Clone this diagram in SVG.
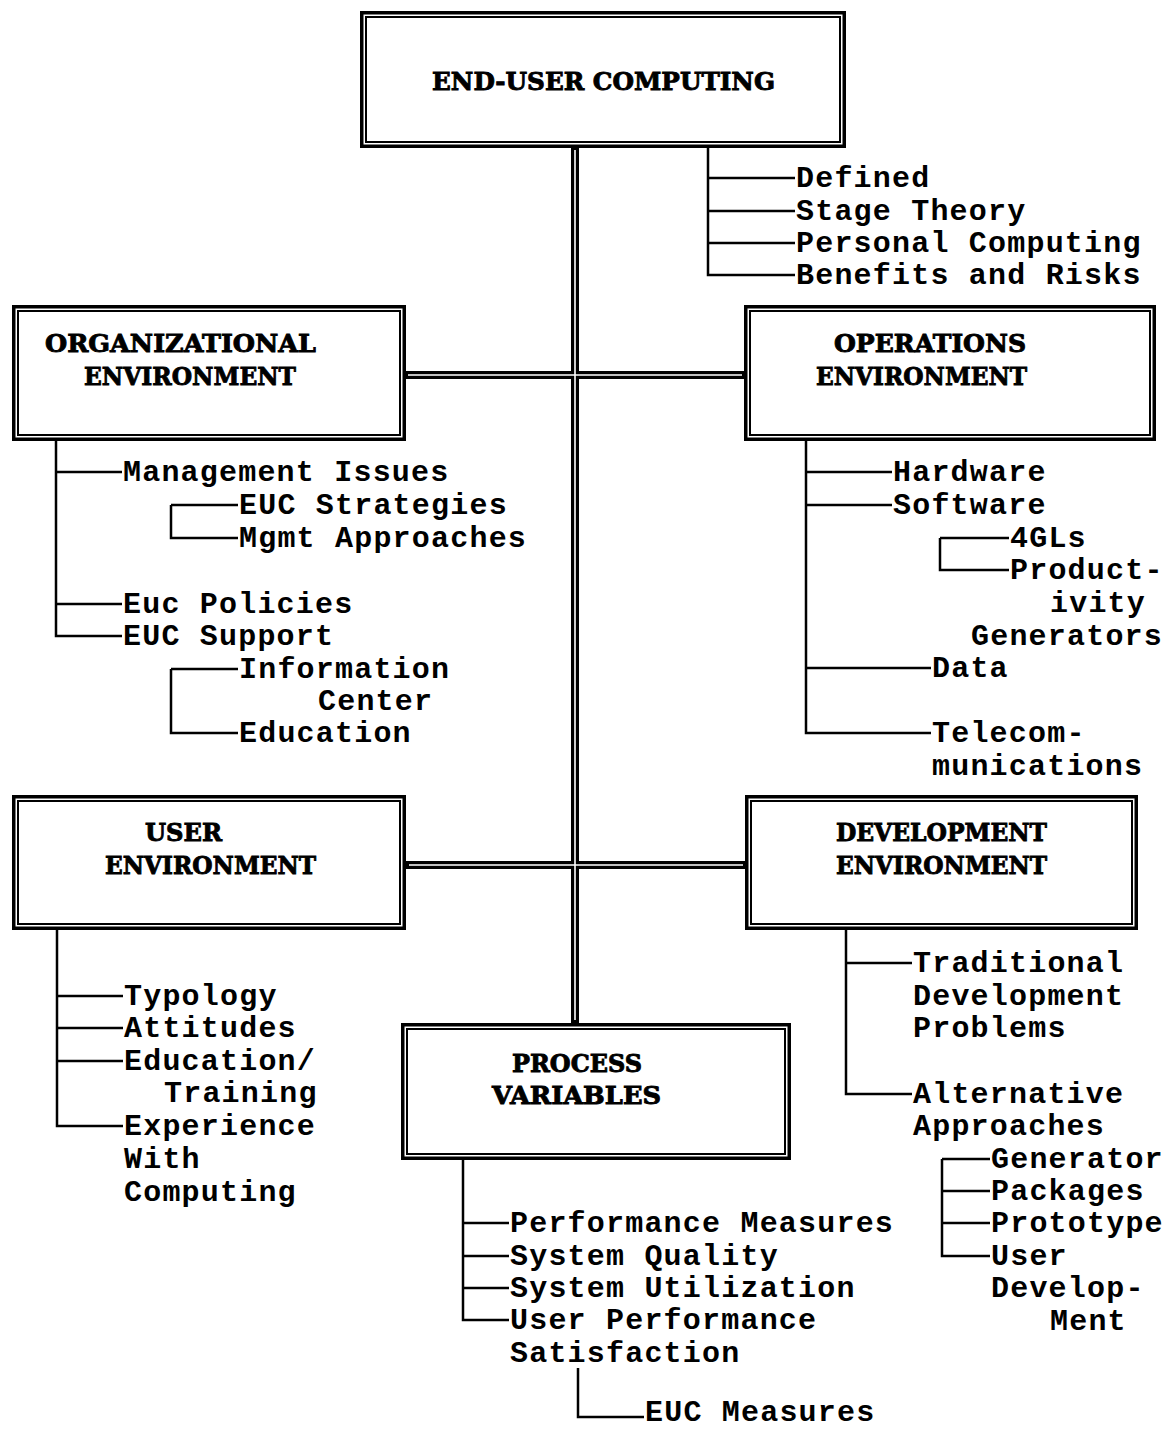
<svg xmlns="http://www.w3.org/2000/svg" width="1172" height="1429" viewBox="0 0 1172 1429">
  <style>
    .bg { fill: #ffffff; }
    .box-out { fill: #ffffff; stroke: #000000; stroke-width: 3.5; }
    .box-in { fill: none; stroke: #000000; stroke-width: 2; }
    .trunk { fill: none; stroke: #000000; stroke-width: 8; }
    .trunk-gap { fill: none; stroke: #ffffff; stroke-width: 1.6; }
    .link { fill: none; stroke: #000000; stroke-width: 2.5; }
    .head { font-family: "DejaVu Serif", "Liberation Serif", serif; font-weight: bold; font-size: 25px; fill: #000000; stroke: #000000; stroke-width: 0.9; }
    .item { font-family: "Liberation Mono", "Courier New", monospace; font-weight: bold; font-size: 30px; letter-spacing: 1.2px; fill: #000000; }
  </style>
  <rect class="bg" x="0" y="0" width="1172" height="1429"/>

  <!-- double-line trunk and the two cross bars -->
  <g id="connectors">
    <path class="trunk" d="M575,147 V1023 M405,375 H745 M406,865 H746"/>
    <path class="trunk-gap" d="M575,150 V1020 M408,375 H742 M409,865 H743"/>

    <!-- End-user computing topics -->
    <path class="link" d="M708,147 V275 H795 M708,178 H795 M708,211 H795 M708,243 H795"/>
    <!-- Organizational environment topics -->
    <path class="link" d="M56,440 V636 H122 M56,472 H122 M56,604 H122"/>
    <path class="link" d="M171,505 V538 H238 M171,505 H238"/>
    <path class="link" d="M171,669 V733 H238 M171,669 H238"/>
    <!-- Operations environment topics -->
    <path class="link" d="M806,440 V733 H931 M806,472 H892 M806,505 H892 M806,668 H931"/>
    <path class="link" d="M940,538 V570 H1009 M940,538 H1009"/>
    <!-- User environment topics -->
    <path class="link" d="M57,930 V1126 H123 M57,996 H123 M57,1028 H123 M57,1061 H123"/>
    <!-- Development environment topics -->
    <path class="link" d="M846,930 V1094 H912 M846,963 H912"/>
    <path class="link" d="M942,1159 V1256 H990 M942,1159 H990 M942,1191 H990 M942,1223 H990"/>
    <!-- Process variables -->
    <path class="link" d="M463,1160 V1320 H509 M463,1223 H509 M463,1256 H509 M463,1288 H509"/>
    <path class="link" d="M578,1368 V1417 H644"/>
  </g>

  <g id="end-user-computing">
    <rect class="box-out" x="361.75" y="12.75" width="482.5" height="133.5"/>
    <rect class="box-in" x="366" y="17" width="474" height="125"/>
    <text class="head" x="432" y="90" textLength="343" lengthAdjust="spacingAndGlyphs">END-USER COMPUTING</text>
  </g>

  <g id="organizational-environment">
    <rect class="box-out" x="13.75" y="306.75" width="390.5" height="132.5"/>
    <rect class="box-in" x="18" y="311" width="382" height="124"/>
    <text class="head" x="45" y="352" textLength="271" lengthAdjust="spacingAndGlyphs">ORGANIZATIONAL</text>
    <text class="head" x="84" y="385" textLength="212" lengthAdjust="spacingAndGlyphs">ENVIRONMENT</text>
  </g>

  <g id="operations-environment">
    <rect class="box-out" x="745.75" y="306.75" width="408.5" height="132.5"/>
    <rect class="box-in" x="750" y="311" width="400" height="124"/>
    <text class="head" x="834" y="352" textLength="192" lengthAdjust="spacingAndGlyphs">OPERATIONS</text>
    <text class="head" x="816" y="385" textLength="211" lengthAdjust="spacingAndGlyphs">ENVIRONMENT</text>
  </g>

  <g id="user-environment">
    <rect class="box-out" x="13.75" y="796.75" width="390.5" height="131.5"/>
    <rect class="box-in" x="18" y="801" width="382" height="123"/>
    <text class="head" x="145" y="841" textLength="77" lengthAdjust="spacingAndGlyphs">USER</text>
    <text class="head" x="105" y="874" textLength="211" lengthAdjust="spacingAndGlyphs">ENVIRONMENT</text>
  </g>

  <g id="development-environment">
    <rect class="box-out" x="746.75" y="796.75" width="389.5" height="131.5"/>
    <rect class="box-in" x="751" y="801" width="381" height="123"/>
    <text class="head" x="836" y="841" textLength="211" lengthAdjust="spacingAndGlyphs">DEVELOPMENT</text>
    <text class="head" x="836" y="874" textLength="211" lengthAdjust="spacingAndGlyphs">ENVIRONMENT</text>
  </g>

  <g id="process-variables">
    <rect class="box-out" x="402.75" y="1024.75" width="386.5" height="133.5"/>
    <rect class="box-in" x="407" y="1029" width="378" height="125"/>
    <text class="head" x="512" y="1072" textLength="130" lengthAdjust="spacingAndGlyphs">PROCESS</text>
    <text class="head" x="492" y="1104" textLength="169" lengthAdjust="spacingAndGlyphs">VARIABLES</text>
  </g>

  <g id="euc-topics">
    <text class="item" x="796" y="187">Defined</text>
    <text class="item" x="796" y="220">Stage Theory</text>
    <text class="item" x="796" y="252">Personal Computing</text>
    <text class="item" x="796" y="284">Benefits and Risks</text>
  </g>

  <g id="organizational-topics">
    <text class="item" x="123" y="481">Management Issues</text>
    <text class="item" x="239" y="514">EUC Strategies</text>
    <text class="item" x="239" y="547">Mgmt Approaches</text>
    <text class="item" x="123" y="613">Euc Policies</text>
    <text class="item" x="123" y="645">EUC Support</text>
    <text class="item" x="239" y="678">Information</text>
    <text class="item" x="318" y="710">Center</text>
    <text class="item" x="239" y="742">Education</text>
  </g>

  <g id="operations-topics">
    <text class="item" x="893" y="481">Hardware</text>
    <text class="item" x="893" y="514">Software</text>
    <text class="item" x="1010" y="547">4GLs</text>
    <text class="item" x="1010" y="579">Product-</text>
    <text class="item" x="1050" y="612">ivity</text>
    <text class="item" x="971" y="645">Generators</text>
    <text class="item" x="932" y="677">Data</text>
    <text class="item" x="932" y="742">Telecom-</text>
    <text class="item" x="932" y="775">munications</text>
  </g>

  <g id="user-topics">
    <text class="item" x="124" y="1005">Typology</text>
    <text class="item" x="124" y="1037">Attitudes</text>
    <text class="item" x="124" y="1070">Education/</text>
    <text class="item" x="164" y="1102">Training</text>
    <text class="item" x="124" y="1135">Experience</text>
    <text class="item" x="124" y="1168">With</text>
    <text class="item" x="124" y="1201">Computing</text>
  </g>

  <g id="development-topics">
    <text class="item" x="913" y="972">Traditional</text>
    <text class="item" x="913" y="1005">Development</text>
    <text class="item" x="913" y="1037">Problems</text>
    <text class="item" x="913" y="1103">Alternative</text>
    <text class="item" x="913" y="1135">Approaches</text>
    <text class="item" x="991" y="1168">Generator</text>
    <text class="item" x="991" y="1200">Packages</text>
    <text class="item" x="991" y="1232">Prototype</text>
    <text class="item" x="991" y="1265">User</text>
    <text class="item" x="991" y="1297">Develop-</text>
    <text class="item" x="1050" y="1330">Ment</text>
  </g>

  <g id="process-topics">
    <text class="item" x="510" y="1232">Performance Measures</text>
    <text class="item" x="510" y="1265">System Quality</text>
    <text class="item" x="510" y="1297">System Utilization</text>
    <text class="item" x="510" y="1329">User Performance</text>
    <text class="item" x="510" y="1362">Satisfaction</text>
    <text class="item" x="645" y="1421">EUC Measures</text>
  </g>
</svg>
